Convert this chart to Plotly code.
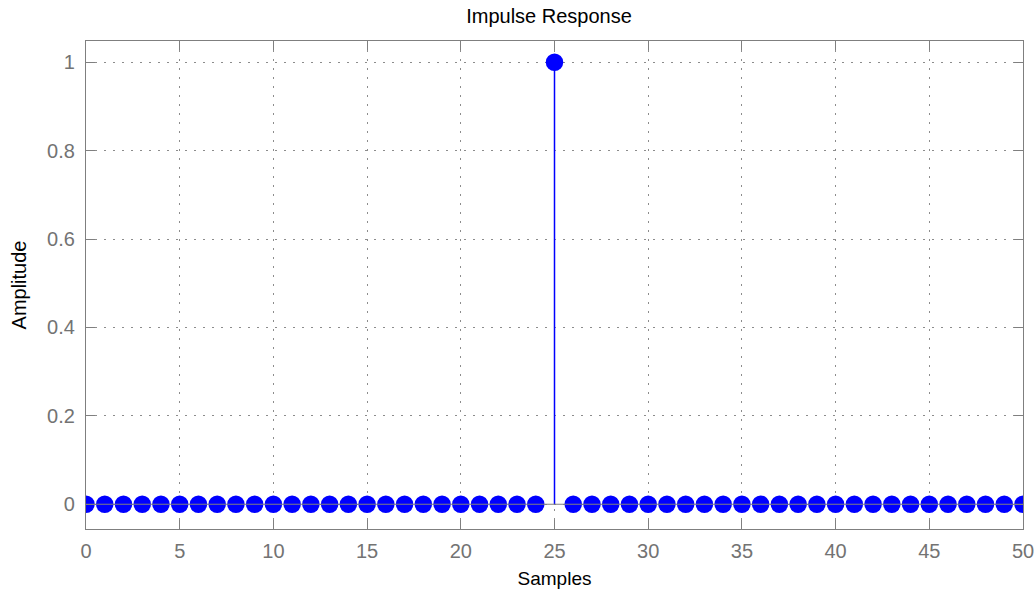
import plotly.graph_objects as go

# Data
samples = list(range(0, 51))
amplitude = [0.0] * 25 + [1.0] + [0.0] * 25

title_text = "Impulse Response"
x_title = "Samples"
y_title = "Amplitude"
x_ticks = [0, 5, 10, 15, 20, 25, 30, 35, 40, 45, 50]
y_ticks = [0, 0.2, 0.4, 0.6, 0.8, 1]
y_tick_labels = ["0", "0.2", "0.4", "0.6", "0.8", "1"]

BLUE = "#0000FF"
GRAY = "#7f7f7f"
FONT = "Liberation Sans, Arial, sans-serif"

# stems
stem_x, stem_y = [], []
for xv, yv in zip(samples, amplitude):
    stem_x += [xv, xv, None]
    stem_y += [0, yv, None]

fig = go.Figure()
fig.add_trace(go.Scatter(x=stem_x, y=stem_y, mode="lines",
                         line=dict(color=BLUE, width=1.5),
                         hoverinfo="skip", showlegend=False))
fig.add_trace(go.Scatter(x=samples, y=amplitude, mode="markers",
                         marker=dict(color=BLUE, size=17.5, symbol="circle",
                                     line=dict(width=0)),
                         showlegend=False))
# baseline
fig.add_trace(go.Scatter(x=[samples[0], samples[-1]], y=[0, 0], mode="lines",
                         line=dict(color=GRAY, width=1.2),
                         hoverinfo="skip", showlegend=False))

fig.update_layout(
    width=1036, height=598,
    margin=dict(l=86, r=13, t=41, b=69, autoexpand=False),
    paper_bgcolor="white", plot_bgcolor="white",
    font=dict(family=FONT, size=20, color="black"),
    title=dict(text=title_text, x=549 / 1036, xref="container", xanchor="center",
               y=1 - 16 / 598, yref="container", yanchor="middle",
               font=dict(family=FONT, size=20, color="black")),
    showlegend=False,
)
fig.update_xaxes(
    range=[0, 50], tickvals=x_ticks, automargin=False,
    showline=True, linecolor=GRAY, linewidth=1.3, mirror="ticks",
    ticks="inside", ticklen=9, tickcolor=GRAY, tickwidth=1.3,
    showgrid=True, gridcolor="#8c8c8c", griddash="2px,7px", gridwidth=1.3,
    zeroline=False,
    tickfont=dict(family=FONT, size=20, color="#737373"),
    ticklabelstandoff=4,
    title=dict(text=x_title, standoff=10, font=dict(family=FONT, size=19, color="black")),
)
fig.update_yaxes(
    range=[-0.056, 1.048], tickvals=y_ticks, ticktext=y_tick_labels, automargin=False,
    showline=True, linecolor=GRAY, linewidth=1.3, mirror="ticks",
    ticks="inside", ticklen=9, tickcolor=GRAY, tickwidth=1.3,
    showgrid=True, gridcolor="#8c8c8c", griddash="2px,7px", gridwidth=1.3,
    zeroline=False,
    tickfont=dict(family=FONT, size=20, color="#737373"),
    ticklabelstandoff=6,
    title=dict(text=y_title, standoff=15, font=dict(family=FONT, size=20, color="black")),
)

fig.write_html("out.html")
